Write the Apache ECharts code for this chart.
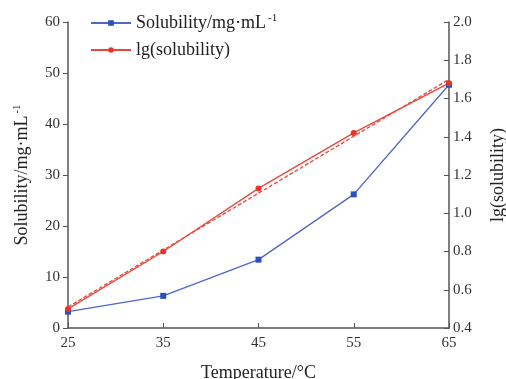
<!DOCTYPE html>
<html><head><meta charset="utf-8">
<script src="https://cdn.jsdelivr.net/npm/echarts@6/dist/echarts.min.js"></script>
<style>html,body{margin:0;padding:0;background:#fff}#c{width:506px;height:379px}</style>
</head><body><div id="c"></div>
<script>
var temperatures = ['25', '35', '45', '55', '65'];
var solubility = [3.2, 6.3, 13.4, 26.2, 47.7];
var lgSolubility = [0.50, 0.80, 1.13, 1.42, 1.68];
var fitLine = [0.51, null, null, null, 1.70];
var leftTicks = {min: 0, max: 60, interval: 10};
var rightTicks = {min: 0.4, max: 2.0, interval: 0.2};

var FONT = 'Liberation Serif';
var axisColor = '#555';
var supStyle = {fontFamily: FONT, fontSize: 11, verticalAlign: 'top', padding: [0, 0, 9, 2], color: '#222'};
var chart = echarts.init(document.getElementById('c'));
chart.setOption({
  animation: false,
  textStyle: {fontFamily: FONT},
  grid: {left: 68, right: 57, top: 22, bottom: 51, containLabel: false, outerBoundsMode: 'none'},
  legend: {
    left: 85, top: 8, orient: 'vertical', itemWidth: 40, itemHeight: 7, itemGap: 9,
    data: ['Solubility', 'lg(solubility)'],
    formatter: function (n) { return n === 'Solubility' ? 'Solubility/mg·mL{sup|-1}' : n; },
    textStyle: {fontFamily: FONT, fontSize: 18, color: '#222',
      rich: {sup: supStyle}}
  },
  xAxis: {
    type: 'category', data: temperatures, boundaryGap: false,
    name: 'Temperature/°C', nameLocation: 'middle', nameGap: 36,
    nameTextStyle: {fontFamily: FONT, fontSize: 18, color: '#222'},
    axisLine: {lineStyle: {color: axisColor, width: 1.5}},
    axisTick: {inside: true, length: 5, lineStyle: {color: axisColor}},
    axisLabel: {fontFamily: FONT, fontSize: 15, color: '#333', margin: 8},
    splitLine: {show: false}
  },
  yAxis: [{
    type: 'value', min: leftTicks.min, max: leftTicks.max, interval: leftTicks.interval,
    name: 'Solubility/mg·mL{sup|-1}', nameLocation: 'middle', nameGap: 36, nameRotate: 90,
    nameTextStyle: {fontFamily: FONT, fontSize: 18, color: '#222', rich: {sup: supStyle}},
    axisLine: {show: true, lineStyle: {color: axisColor, width: 1.5}},
    axisTick: {show: true, inside: false, length: 5, lineStyle: {color: axisColor}},
    axisLabel: {fontFamily: FONT, fontSize: 15, color: '#333', margin: 8},
    splitLine: {show: false}
  }, {
    type: 'value', position: 'right', min: rightTicks.min, max: rightTicks.max, interval: rightTicks.interval,
    name: 'lg(solubility)', nameLocation: 'middle', nameGap: 40, nameRotate: 90,
    nameTextStyle: {fontFamily: FONT, fontSize: 18, color: '#222'},
    axisLine: {show: true, lineStyle: {color: axisColor, width: 1.5}},
    axisTick: {show: true, inside: true, length: 5, lineStyle: {color: axisColor}},
    axisLabel: {fontFamily: FONT, fontSize: 15, color: '#333', margin: 4, padding: [7, 0, 0, 0],
      formatter: function (v) { return v.toFixed(1); }},
    splitLine: {show: false}
  }],
  series: [{
    name: 'Solubility', type: 'line', yAxisIndex: 0, data: solubility,
    symbol: 'rect', symbolSize: 6,
    lineStyle: {color: '#4f65c8', width: 1.3}, itemStyle: {color: '#2a4fbf'}
  }, {
    name: 'lg(solubility)', type: 'line', yAxisIndex: 1, data: lgSolubility,
    symbol: 'circle', symbolSize: 6,
    lineStyle: {color: '#e8483c', width: 1.3}, itemStyle: {color: '#e8352a'}
  }, {
    name: 'fit', type: 'line', yAxisIndex: 1, data: fitLine, connectNulls: true,
    symbol: 'none', lineStyle: {color: '#e8483c', width: 1.3, type: [4, 2]}, z: 1
  }]
});
</script></body></html>
